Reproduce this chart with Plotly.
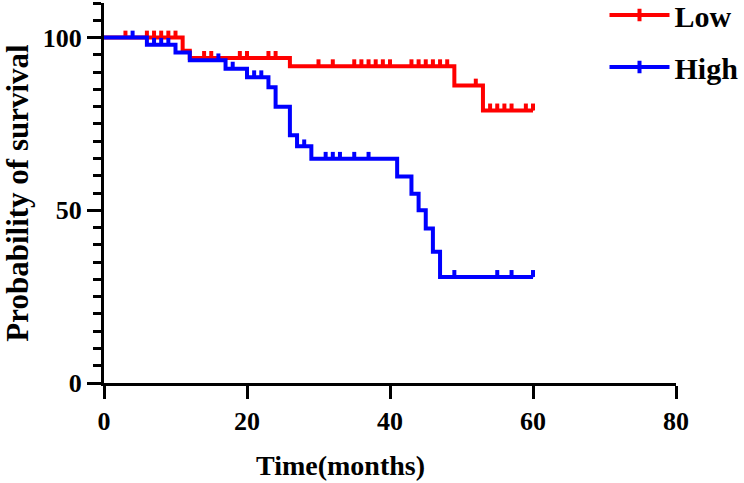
import numpy as np
import plotly.graph_objects as go

# Kaplan-Meier step data (time in months, survival %)
low_time = [0, 11, 12, 26, 49, 53, 60]
low_surv = [100, 96.2, 94.1, 91.7, 86.1, 78.9, 78.9]
low_censor = [3, 6, 7, 8, 9, 10, 14, 15, 19, 20, 23, 24, 30, 32, 35, 36, 37, 38, 39, 40,
              43, 44, 45, 46, 47, 48, 52, 54, 55, 56, 57, 59, 60]

high_time = [0, 6, 10, 12, 17, 20, 23, 24, 26, 27, 29, 41, 43, 44, 45, 46, 47, 60]
high_surv = [100, 97.9, 95.7, 93.4, 91.0, 88.5, 85.6, 80.0, 71.7, 68.5, 64.9, 59.8,
             54.8, 50.0, 44.7, 38.0, 30.7, 30.7]
high_censor = [4, 7, 8, 9, 16, 18, 21, 22, 28, 31, 32, 33, 35, 37, 49, 55, 57, 60]

groups = ["Low", "High"]
colors = ["#FF0000", "#0000FF"]

FONT = "Liberation Serif"


def censor_levels(time, surv, cens):
    t = np.asarray(time)
    s = np.asarray(surv)
    idx = np.searchsorted(t, np.asarray(cens), side="right") - 1
    return s[idx]


fig = go.Figure()
series = [(low_time, low_surv, low_censor), (high_time, high_surv, high_censor)]
for name, col, (t, s, c) in zip(groups, colors, series):
    fig.add_trace(go.Scatter(x=t, y=s, mode="lines", line=dict(color=col, width=4, shape="hv"),
                             showlegend=False, hoverinfo="skip"))
    yc = censor_levels(t, s, c)
    fig.add_trace(go.Scatter(
        x=c, y=yc, mode="markers", marker=dict(size=1, color=col),
        error_y=dict(type="data", symmetric=False, array=[2.0] * len(c), arrayminus=[0] * len(c),
                     width=0, thickness=4, color=col),
        showlegend=False, hoverinfo="skip"))

for name, col in zip(groups, colors):
    fig.add_trace(go.Scatter(x=[None], y=[None], mode="lines+markers", name=name,
                             legendgroup=name,
                             line=dict(color=col, width=4),
                             marker=dict(symbol="line-ns", size=9, color=col,
                                         line=dict(color=col, width=4))))

fig.update_layout(
    width=744, height=483,
    margin=dict(l=104, r=68, t=3, b=100, autoexpand=False),
    plot_bgcolor="white", paper_bgcolor="white",
    font=dict(family=FONT, size=26, color="black", weight="bold"),
    showlegend=True,
    legend=dict(x=0.875, y=1.037, xanchor="left", yanchor="top",
                font=dict(family=FONT, size=30, color="black", weight="bold"),
                bgcolor="rgba(0,0,0,0)", itemwidth=60, tracegroupgap=10,
                traceorder="grouped"),
    annotations=[dict(text="Time(months)", xref="paper", yref="paper", x=0.4126, y=-0.216,
                      xanchor="center", yanchor="middle", showarrow=False,
                      font=dict(family=FONT, size=28, color="black", weight="bold"))],
)
fig.update_xaxes(range=[0, 80], tickvals=[0, 20, 40, 60, 80], showline=True, linewidth=3,
                 linecolor="black", ticks="outside", ticklen=13, tickwidth=3, tickcolor="black",
                 showgrid=False, zeroline=False,
                 tickfont=dict(family=FONT, size=26, weight="bold"))
fig.update_yaxes(range=[0, 110], tickvals=[0, 50, 100], showline=True, linewidth=3,
                 linecolor="black", ticks="outside", ticklen=14, tickwidth=3, tickcolor="black",
                 minor=dict(dtick=5, ticks="outside", ticklen=8, tickwidth=3, tickcolor="black"),
                 showgrid=False, zeroline=False,
                 tickfont=dict(family=FONT, size=26, weight="bold"),
                 title=dict(text="Probability of survival",
                            font=dict(family=FONT, size=31, weight="bold"), standoff=7))

fig.write_html("out.html")
